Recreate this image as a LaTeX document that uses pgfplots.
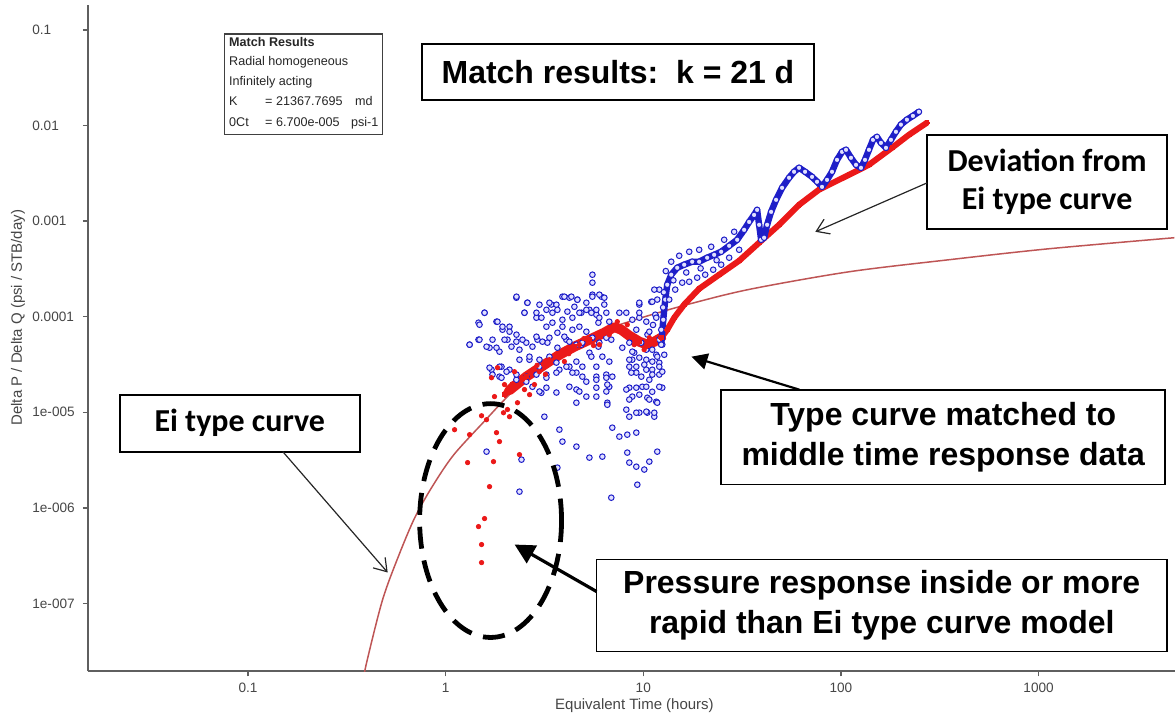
\documentclass[border=0pt]{standalone}
\usepackage{fontspec}
\setmainfont{Liberation Sans}
\newfontfamily\calibri{Carlito}
\usepackage{pgfplots}
\pgfplotsset{compat=1.18}
\usetikzlibrary{arrows.meta}
\definecolor{eicurve}{RGB}{190,85,85}
\definecolor{datared}{RGB}{235,25,25}
\definecolor{datablue}{RGB}{30,30,200}
\definecolor{axisgray}{RGB}{95,95,95}
\definecolor{labelgray}{RGB}{70,70,70}
\begin{document}
\begin{tikzpicture}
\begin{scope}[shift={(-44pt,336pt)}, x=0.5pt, y=-0.5pt]
\useasboundingbox (0,0) rectangle (1176,717);
\end{scope}
\begin{axis}[
  at={(0,0)}, anchor=south west,
  scale only axis, width=544pt, height=333.5pt,
  xmode=log, ymode=log,
  xmin=0.0155, xmax=4900, ymin=1.95e-8, ymax=0.182,
  axis lines*=left,
  axis line style={axisgray, line width=1pt},
  xtick={0.1,1,10,100,1000}, xticklabels={0.1,1,10,100,1000},
  ytick={1e-7,1e-6,1e-5,1e-4,1e-3,1e-2,1e-1},
  yticklabels={1e-007,1e-006,1e-005,0.0001,0.001,0.01,0.1},
  xminorticks=false, yminorticks=false,
  tick align=outside, major tick length=2.5pt,
  tick style={axisgray, line width=0.7pt},
  ticklabel style={font=\fontsize{6.8}{8}\selectfont, text=labelgray},
  yticklabel style={anchor=west, inner sep=0pt, xshift=-25.5pt},
  xticklabel style={inner sep=0pt, yshift=-3pt},
  clip=true,
  bluemk/.style={only marks, mark=*, mark size=1.4pt, mark options={draw=datablue, fill=blue!12, line width=0.5pt}},
]
% Ei type curve
\addplot[eicurve, line width=0.75pt, smooth, no marks] coordinates {
(0.372,1.2e-8) (0.40,2.5e-8) (0.48,1.1e-7) (0.58,3.2e-7) (0.70,8.0e-7) (0.86,1.7e-6)
(1.10,3.6e-6) (1.60,8.4e-6) (2.03,1.42e-5) (2.95,3.0e-5) (4.23,5.0e-5)
(5.93,6.9e-5) (9.55,9.6e-5) (16.49,1.33e-4) (34.33,1.93e-4) (109.9,2.95e-4)
(351,3.94e-4) (1123,5.13e-4) (4864,6.7e-4)
};
% blue scattered data
\addplot[bluemk] coordinates {
(5.53,2.75e-4) (5.53,2.27e-4) (2.28,1.58e-4) (2.59,1.40e-4) (3.43,1.34e-4) (3.90,1.62e-4)
(4.23,1.58e-4) (4.64,1.51e-4) (5.53,1.70e-4) (6.14,1.62e-4) (6.35,1.34e-4) (1.574,1.10e-4)
(1.809,8.87e-5) (1.467,8.66e-5) (1.94,7.31e-5) (2.105,7.86e-5) (2.506,1.10e-4) (2.88,9.76e-5)
(3.236,1.18e-4) (3.47,8.66e-5) (3.90,7.86e-5) (4.38,9.76e-5) (4.86,1.10e-4) (5.34,1.18e-4)
(5.79,1.05e-4) (5.93,8.66e-5) (6.73,8.87e-5) (7.57,1.10e-4) (9.55,1.34e-4) (10.98,1.43e-4)
(9.55,9.76e-5) (11.63,1.0e-4) (1.322,5.1e-5) (1.467,5.75e-5) (1.668,4.74e-5) (1.873,4.31e-5)
(2.056,5.75e-5) (2.28,5.48e-5) (2.56,5.35e-5) (2.915,5.75e-5) (3.274,5.35e-5) (3.678,4.74e-5)
(4.08,5.75e-5) (4.86,5.1e-5) (5.34,4.2e-5) (5.93,4.86e-5) (6.89,5.75e-5) (8.50,5.35e-5)
(9.0,4.2e-5) (9.77,5.35e-5) (11.1,4.52e-5) (12.48,5.1e-5)
(1.707,2.79e-5) (1.918,3.0e-5) (2.105,2.79e-5) (2.656,3.55e-5) (2.98,3.0e-5) (3.236,2.48e-5)
(3.765,2.79e-5) (4.23,3.0e-5) (4.59,2.6e-5) (5.15,2.09e-5) (5.79,2.36e-5) (6.50,2.48e-5)
(6.73,1.85e-5) (8.50,3.0e-5) (8.80,3.55e-5) (9.22,2.6e-5) (10.36,3.55e-5) (11.1,2.79e-5)
(12.05,3.3e-5) (8.50,1.81e-5) (9.89,1.85e-5) (11.1,1.64e-5) (12.48,1.81e-5) (8.80,1.46e-5)
(10.48,1.42e-5) (11.63,1.29e-5) (1.873,2.36e-5) (2.28,2.19e-5) (2.56,2.09e-5) (2.75,1.85e-5)
(3.05,1.6e-5) (4.59,1.73e-5) (5.79,1.46e-5) (6.58,1.26e-5)
(3.16,9.0e-6) (3.765,6.59e-6) (3.90,4.94e-6) (4.59,4.38e-6) (5.34,3.36e-6) (6.21,3.44e-6)
(6.97,6.91e-6) (7.57,5.57e-6) (8.30,5.84e-6) (9.22,6.13e-6) (8.50,9.0e-6) (9.55,9.92e-6)
(10.48,9.92e-6) (11.37,9.0e-6) (11.77,3.88e-6) (10.73,3.05e-6) (10.12,2.52e-6) (9.22,2.70e-6)
(8.30,3.79e-6) (9.33,1.75e-6) (6.89,1.28e-6) (3.678,2.64e-6) (2.42,3.2e-6) (2.364,1.48e-6)
(1.611,3.88e-6) (8.50,2.98e-6)
(11.77,1.51e-4) (12.05,1.92e-4) (11.5,1.05e-4) (12.33,7.31e-5) (12.77,4.0e-5) (12.05,2.48e-5)
(10.73,2.19e-5) (10.12,3.15e-5) (11.37,1.92e-4) (10.5,6.5e-5) (11.2,8.2e-5) (12.6,1.25e-4)
};
\addplot[bluemk] coordinates {
(2.283,1.62e-4) (2.595,1.40e-4) (2.984,1.335e-4) (3.351,1.40e-4) (3.636,1.335e-4) (3.990,1.62e-4)
(4.329,1.62e-4) (4.642,1.505e-4) (5.154,1.40e-4) (5.527,1.62e-4) (5.995,1.70e-4) (6.355,1.58e-4)
(1.574,1.10e-4) (1.830,8.87e-5) (1.484,8.25e-5) (1.940,7.86e-5) (2.105,6.97e-5) (2.283,6.49e-5)
(2.448,5.75e-5) (1.986,5.75e-5) (1.727,5.75e-5) (1.484,5.75e-5) (1.322,5.10e-5) (1.611,4.86e-5)
(1.809,4.74e-5) (2.154,4.86e-5) (2.364,4.52e-5) (2.506,1.10e-4) (2.881,1.10e-4) (3.054,9.76e-5)
(3.236,7.86e-5) (3.471,1.10e-4) (3.678,1.18e-4) (3.899,9.30e-5) (4.132,1.13e-4) (4.483,1.27e-4)
(4.751,1.10e-4) (5.154,1.18e-4) (5.463,1.10e-4) (5.790,1.18e-4) (5.995,9.76e-5) (6.504,1.10e-4)
(4.751,7.86e-5) (4.380,7.31e-5) (3.990,6.18e-5) (3.678,6.80e-5) (3.351,6.03e-5) (3.089,5.48e-5)
(2.881,6.18e-5) (2.750,4.86e-5) (5.154,6.97e-5) (5.527,6.03e-5) (5.995,5.35e-5) (6.504,6.03e-5)
(4.919,5.35e-5) (4.588,5.10e-5) (4.229,5.48e-5) (9.548,1.40e-4) (11.11,1.434e-4) (9.548,1.10e-4)
(8.802,9.30e-5) (10.36,8.87e-5) (11.63,9.76e-5) (8.208,1.10e-4) (9.221,7.31e-5) (10.73,6.97e-5)
(12.05,5.75e-5) (7.835,4.74e-5) (8.802,4.31e-5) (10.36,4.52e-5) (11.63,4.00e-5) (9.548,3.73e-5)
(8.499,3.55e-5) (11.11,3.39e-5) (9.221,3.00e-5) (10.36,2.79e-5) (12.05,3.00e-5) (8.700,2.60e-5)
(9.775,2.36e-5) (11.11,2.48e-5) (12.48,2.66e-5) (11.77,3.82e-5) (1.668,2.93e-5) (1.873,3.00e-5)
(2.033,2.66e-5) (2.364,3.55e-5) (2.656,3.82e-5) (2.984,3.55e-5) (3.351,3.82e-5) (3.636,3.31e-5)
(4.084,3.00e-5) (4.588,3.39e-5) (4.919,3.00e-5) (5.463,3.82e-5) (5.790,3.00e-5) (6.209,3.82e-5)
(6.735,3.39e-5) (4.380,2.60e-5) (4.919,2.36e-5) (5.790,2.19e-5) (6.504,2.30e-5) (6.975,2.36e-5)
(3.636,2.60e-5) (3.236,2.30e-5) (2.881,2.48e-5) (2.565,2.36e-5) (2.283,2.48e-5) (1.918,2.30e-5)
(1.727,2.48e-5) (4.229,1.85e-5) (4.751,1.65e-5) (5.790,1.81e-5) (6.580,1.95e-5) (5.154,1.46e-5)
(6.504,1.65e-5) (8.208,1.73e-5) (9.221,1.81e-5) (10.36,1.85e-5) (9.548,1.53e-5) (10.73,1.36e-5)
(11.77,1.26e-5) (12.05,1.85e-5) (8.499,1.36e-5) (3.236,1.81e-5) (2.984,1.65e-5) (3.636,1.61e-5)
(4.588,1.26e-5) (6.580,1.20e-5) (8.208,1.066e-5) (9.221,9.9e-6) (10.36,1.016e-5) (11.37,9.9e-6)
};
% red data: scattered points
\addplot[only marks, mark=*, mark size=1.1pt, mark options={draw=datared, fill=datared}] coordinates {
(1.52,2.68e-7) (1.52,4.14e-7) (1.467,6.38e-7) (1.574,7.74e-7) (1.668,1.67e-6) (1.747,3.05e-6)
(1.292,2.98e-6) (1.873,4.94e-6) (1.809,6.13e-6) (1.52,9.2e-6) (1.11,6.58e-6) (1.322,5.84e-6)
(1.611,8.37e-6) (1.963,9.9e-6) (2.056,1.07e-5) (2.364,3.61e-6) (2.31,1.26e-5) (1.767,1.46e-5)
(2.105,9.0e-6) (1.707,2.30e-5) (1.83,2.93e-5) (1.986,1.95e-5) (2.23,2.66e-5) (2.506,1.73e-5)
(2.815,1.95e-5) (2.98,2.66e-5) (2.66,1.53e-5) (3.35,3.55e-5) (3.99,3.4e-5) (4.75,5.1e-5)
(6.0,5.1e-5) (6.73,6.48e-5) (9.0,5.1e-5) (10.1,4.52e-5) (10.73,6.03e-5) (8.3,8.25e-5) (7.39,8.87e-5)
(2.45,2.2e-5) (2.9,3.1e-5) (3.2,2.5e-5) (3.6,3.9e-5) (4.2,4.1e-5) (5.0,5.9e-5) (5.6,5.0e-5)
};
% red data: dense band (early, wider part)
\addplot[datared, line width=5pt, line join=round, line cap=round, no marks] coordinates {
(2.1,1.7e-5) (2.56,2.36e-5) (3.16,3.15e-5) (3.77,4.0e-5) (4.48,4.86e-5)
(5.34,5.75e-5) (6.35,6.8e-5) (7.14,7.8e-5) (7.74,7.31e-5) (8.50,6.33e-5) (9.55,5.48e-5)
(10.48,5.1e-5) (11.37,5.48e-5) (12.33,6.03e-5)
};
% red data: dense band
\addplot[datared, line width=3pt, line join=round, mark=*, mark size=1.3pt, mark options={fill=datared, draw=datared, line width=0pt}] coordinates {
(1.99,1.53e-5) (2.18,1.95e-5) (2.56,2.36e-5) (3.16,3.15e-5) (3.77,4.0e-5) (4.48,4.86e-5)
(5.34,5.75e-5) (6.35,6.8e-5) (7.14,8.05e-5) (7.74,7.31e-5) (8.50,6.33e-5) (9.55,5.48e-5)
(10.48,4.98e-5) (11.37,5.48e-5) (12.33,6.03e-5) (13.22,7.31e-5) (14.34,9.76e-5) (16.11,1.34e-4)
(19.18,1.96e-4) (24.21,2.75e-4) (30.56,3.85e-4) (38.56,5.94e-4) (48.66,9.15e-4) (61.41,1.48e-3)
(77.49,2.13e-3) (109.9,3.05e-3) (138.6,3.88e-3) (181.2,5.84e-3) (220.7,7.98e-3) (272.1,1.067e-2)
};
% blue data: dense band
\addplot[datablue, line width=3.2pt, line join=round, line cap=round, mark=*, mark size=1.4pt, mark options={draw=datablue, fill=blue!12, line width=0.5pt}] coordinates {
(12.33,5.1e-5) (12.62,9.3e-5) (12.92,1.51e-4) (13.22,2.16e-4) (13.85,2.75e-4) (14.85,3.25e-4)
(16.11,3.5e-4) (17.68,3.76e-4) (19.18,3.76e-4) (21.05,4.14e-4) (22.84,4.44e-4) (24.78,4.78e-4)
(27.2,5.52e-4) (29.86,6.38e-4) (32.39,8.1e-4) (34.33,9.8e-4) (36.38,1.16e-3) (37.67,1.31e-3)
(38.56,9.15e-4) (39.47,6.38e-4) (40.87,6.7e-4) (42.32,9.15e-4) (44.34,1.25e-3) (46.99,1.67e-3)
(50.39,2.23e-3) (54.66,2.84e-3) (57.94,3.28e-3) (61.41,3.61e-3) (65.85,3.28e-3) (71.43,2.9e-3)
(75.71,2.58e-3) (80.25,2.28e-3) (85.05,2.70e-3) (90.15,3.28e-3) (95.54,4.37e-3) (101.3,5.3e-3)
(106.1,5.57e-3) (112.4,4.59e-3) (119.2,3.88e-3) (126.3,3.61e-3) (132.3,4.37e-3) (138.6,5.57e-3)
(145.3,7.08e-3) (152.2,7.6e-3) (159.4,6.58e-3) (169.0,5.84e-3) (179.1,7.08e-3) (189.8,8.6e-3)
(201.1,1.02e-2) (215.7,1.15e-2) (231.3,1.26e-2) (248.0,1.39e-2)
};
% blue band edges
\addplot[bluemk] coordinates {
(13.53,1.51e-4) (14.51,1.92e-4) (15.74,2.27e-4) (17.08,2.32e-4) (18.74,2.56e-4) (20.57,2.75e-4)
(22.58,3.1e-4) (24.78,3.5e-4) (27.2,4.14e-4) (30.56,5.01e-4)
(13.85,3.76e-4) (15.2,4.34e-4) (17.08,4.78e-4) (19.18,5.01e-4) (22.06,5.39e-4) (25.66,6.38e-4)
(28.83,7.73e-4) (14.2,2.4e-4) (16.5,2.9e-4) (19.5,3.2e-4) (23.5,3.9e-4) (13.0,3.0e-4) (12.7,1.8e-4)
};
\end{axis}
\begin{scope}[shift={(-44pt,336pt)}, x=0.5pt, y=-0.5pt]
% axis labels
\node[font=\fontsize{7.5}{9}\selectfont, text=labelgray] at (635,706) {Equivalent Time (hours)};
\node[font=\fontsize{7.5}{9}\selectfont, text=labelgray, rotate=90] at (18,318) {Delta P / Delta Q (psi / STB/day)};
% small match results box
\draw[black!75, line width=0.6pt, fill=white] (225,34) rectangle (383,135);
\begin{scope}[every node/.style={anchor=base west, inner sep=0pt, font=\fontsize{6.3}{7}\selectfont, text=black!85}]
\node[font=\bfseries\fontsize{6.3}{7}\selectfont] at (229,47) {Match Results};
\node at (229,66) {Radial homogeneous};
\node at (229,86) {Infinitely acting};
\node at (229,106) {K};
\node at (265,106) {= 21367.7695};
\node at (355,106) {md};
\node at (229,127) {0Ct};
\node at (265,127) {= 6.700e-005};
\node at (351,127) {psi-1};
\end{scope}
% annotation boxes
\draw[black, line width=0.9pt, fill=white] (422,44) rectangle (815,100);
\node[font=\bfseries\fontsize{16}{19}\selectfont] at (618.5,72) {Match results:\ \ k = 21 d};
\draw[black, line width=0.9pt, fill=white] (928,135) rectangle (1168,229);
\node[align=center, font=\calibri\bfseries\fontsize{16}{19}\selectfont] at (1048,182) {Deviation from\\Ei type curve};
\draw[black, line width=0.9pt, fill=white] (722,390) rectangle (1166,485);
\node[align=center, font=\bfseries\fontsize{16}{20}\selectfont] at (944,437.5) {Type curve matched to\\middle time response data};
\draw[black, line width=0.9pt, fill=white] (120,395) rectangle (360,452);
\node[font=\calibri\bfseries\fontsize{16}{19}\selectfont] at (240,423.5) {Ei type curve};
\draw[black, line width=0.9pt, fill=white] (597,560) rectangle (1168,652);
\node[align=center, font=\bfseries\fontsize{16}{20}\selectfont] at (882.5,606) {Pressure response inside or more\\rapid than Ei type curve model};
% arrows
\draw[black!85, line width=0.6pt, -{Straight Barb[length=6pt,width=8pt]}] (928,183) -- (816,232);
\draw[black, line width=1.1pt, -{Triangle[length=8pt,width=8pt]}] (800,390) -- (692,357);
\draw[black!85, line width=0.6pt, -{Straight Barb[length=6pt,width=8pt]}] (283,452) -- (388,573);
\draw[black, line width=1.6pt, -{Triangle[length=10pt,width=10pt]}] (597,592) -- (515,545);
% dashed ellipse
\draw[black, line width=2.4pt, dash pattern=on 11pt off 6pt] (491,521) ellipse [x radius=35.5pt, y radius=58.5pt];
\end{scope}
\end{tikzpicture}
\end{document}
